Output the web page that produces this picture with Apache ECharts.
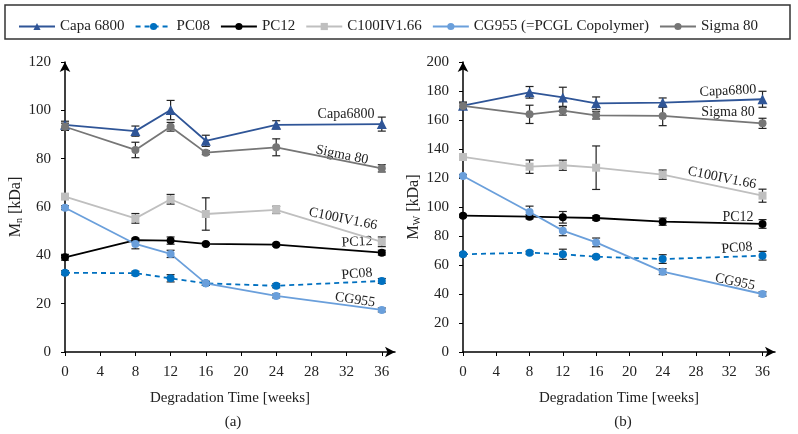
<!DOCTYPE html>
<html>
<head>
    <meta charset="UTF-8">
    <title></title>
    <style type="text/css">
        body { margin: 0; background: #fff; }
    </style>
</head>
<body>
<div id='mychart' style="width: 798px;height:434px;"></div>
<script src='https://cdn.jsdelivr.net/npm/echarts@6/dist/echarts.min.js'></script>
<script>
    var weeks = [0, 8, 12, 16, 24, 36];
    var names = ['Capa 6800', 'PC08', 'PC12', 'C100IV1.66', 'CG955 (=PCGL Copolymer)', 'Sigma 80'];

    // Mn [kDa] and error
    var mnCapa = [94, 91.4, 100.1, 87.4, 94, 94.3];
    var mnCapaErr = [1.5, 2.1, 4, 2.3, 1.7, 2.9];
    var mnPC08 = [32.8, 32.6, 30.5, 28.4, 27.4, 29.4];
    var mnPC08Err = [0.8, 0.8, 1.5, 0.8, 0.8, 1];
    var mnPC12 = [39.2, 46.3, 46.1, 44.7, 44.4, 41.1];
    var mnPC12Err = [1.2, 0.8, 1.5, 0.6, 0.6, 1];
    var mnC100 = [64.3, 55.3, 63.2, 57.1, 58.8, 45.6];
    var mnC100Err = [1, 2, 2, 6.7, 1.5, 2];
    var mnCG955 = [59.7, 44.7, 40.6, 28.4, 23.2, 17.4];
    var mnCG955Err = [0.8, 2, 1.5, 0.8, 0.8, 0.8];
    var mnSigma = [93.2, 83.6, 93.2, 82.5, 84.7, 76];
    var mnSigmaErr = [1.5, 3.2, 1.8, 0.8, 3.5, 1.5];

    // Mw [kDa] and error
    var mwCapa = [169.9, 179.1, 175.6, 171.5, 172, 174.3];
    var mwCapaErr = [2.5, 4, 7, 4.4, 3.2, 5.5];
    var mwPC08 = [67.4, 68.5, 67.4, 65.7, 64.1, 66.4];
    var mwPC08Err = [1, 1, 3.5, 1, 3, 3];
    var mwPC12 = [94, 93.3, 92.9, 92.4, 89.9, 88.3];
    var mwPC12Err = [1, 1.5, 4, 1.5, 2.5, 3];
    var mwC100 = [134.5, 127.8, 128.8, 127.1, 122.3, 107.8];
    var mwC100Err = [2, 4.6, 3.5, 15, 3.2, 4.5];
    var mwCG955 = [121.4, 96.6, 83.7, 75.6, 55.4, 40];
    var mwCG955Err = [1, 4, 3.5, 3, 2, 1.5];
    var mwSigma = [169.7, 163.9, 166.4, 163.2, 162.8, 157.7];
    var mwSigmaErr = [2, 6.3, 3, 2.5, 6.7, 3.5];

    var xTicks = [0, 4, 8, 12, 16, 20, 24, 28, 32, 36];

    var colors = ['#2F5597', '#0070C0', '#000000', '#BFBFBF', '#6A9FDB', '#767676'];
    var symbols = ['triangle', 'circle', 'circle', 'rect', 'circle', 'circle'];
    var serif = 'Liberation Serif';

    var mnSets = [[mnCapa, mnCapaErr], [mnPC08, mnPC08Err], [mnPC12, mnPC12Err], [mnC100, mnC100Err], [mnCG955, mnCG955Err], [mnSigma, mnSigmaErr]];
    var mwSets = [[mwCapa, mwCapaErr], [mwPC08, mwPC08Err], [mwPC12, mwPC12Err], [mwC100, mwC100Err], [mwCG955, mwCG955Err], [mwSigma, mwSigmaErr]];

    function pairs(vals) {
        var res = [];
        for (var i = 0; i < weeks.length; i++) res.push([weeks[i], vals[i]]);
        return res;
    }
    function triples(vals, errs) {
        var res = [];
        for (var i = 0; i < weeks.length; i++) res.push([weeks[i], vals[i], errs[i]]);
        return res;
    }

    function errorBar(params, api) {
        var x = api.value(0), v = api.value(1), e = api.value(2);
        var top = api.coord([x, v + e]);
        var bot = api.coord([x, v - e]);
        var w = 4;
        var st = {stroke: '#222', lineWidth: 1.2};
        return {
            type: 'group',
            children: [
                {type: 'line', shape: {x1: top[0], y1: top[1], x2: bot[0], y2: bot[1]}, style: st},
                {type: 'line', shape: {x1: top[0] - w, y1: top[1], x2: top[0] + w, y2: top[1]}, style: st},
                {type: 'line', shape: {x1: bot[0] - w, y1: bot[1], x2: bot[0] + w, y2: bot[1]}, style: st}
            ]
        };
    }

    var series = [];
    [mnSets, mwSets].forEach(function (sets, g) {
        for (var i = 0; i < sets.length; i++) {
            series.push({
                type: 'custom',
                name: 'err' + g + i,
                xAxisIndex: g, yAxisIndex: g,
                renderItem: errorBar,
                data: triples(sets[i][0], sets[i][1]),
                z: 1,
                silent: true
            });
            series.push({
                type: 'line',
                name: names[i],
                xAxisIndex: g, yAxisIndex: g,
                data: pairs(sets[i][0]),
                symbol: symbols[i],
                symbolSize: symbols[i] === 'triangle' ? 10 : 8,
                color: colors[i],
                lineStyle: {width: 1.8, type: i === 1 ? [5, 4] : 'solid'},
                z: 3
            });
        }
    });

    function xAxis(idx) {
        return {
            type: 'value', gridIndex: idx, min: 0, max: 37.5,
            name: 'Degradation Time [weeks]', nameLocation: 'middle', nameGap: 39,
            nameTextStyle: {fontFamily: serif, fontSize: 15, color: '#222'},
            axisLine: {lineStyle: {color: '#000', width: 1.5}, symbol: ['none', 'arrow'], symbolSize: [8, 10]},
            axisTick: {customValues: xTicks, length: 4, lineStyle: {color: '#000'}},
            axisLabel: {customValues: xTicks, fontFamily: serif, fontSize: 15, color: '#222', margin: 13},
            splitLine: {show: false}
        };
    }
    function yAxis(idx, max, sub) {
        return {
            type: 'value', gridIndex: idx, min: 0, max: max, interval: 20,
            name: 'M{s|' + sub + '} [kDa]', nameLocation: 'middle', nameGap: 35, nameRotate: 90,
            nameTextStyle: {fontFamily: serif, fontSize: 16, color: '#222', rich: {s: {fontFamily: serif, fontSize: 10, verticalAlign: 'bottom', padding: [7, 0, 0, 0]}}},
            axisLine: {show: true, lineStyle: {color: '#000', width: 1.5}, symbol: ['none', 'arrow'], symbolSize: [8, 10]},
            axisTick: {show: true, length: 4, lineStyle: {color: '#000'}},
            axisLabel: {fontFamily: serif, fontSize: 15, color: '#222', margin: 14},
            splitLine: {show: false}
        };
    }

    function note(text, x, y, rot, size) {
        return {
            type: 'text', x: x, y: y, rotation: rot || 0,
            style: {text: text, fontFamily: serif, fontSize: size || 14, fill: '#222', align: 'center', verticalAlign: 'middle'}
        };
    }

    var myChart = echarts.init(document.getElementById('mychart'));
    var option = {
        animation: false,
        backgroundColor: '#fff',
        legend: {
            data: names, top: 14, left: 13, itemGap: 10, itemWidth: 36, itemHeight: 9,
            textStyle: {fontFamily: serif, fontSize: 15, color: '#222'}
        },
        grid: [
            {left: 65, top: 62, width: 330, height: 290},
            {left: 463, top: 62, width: 312, height: 290}
        ],
        xAxis: [xAxis(0), xAxis(1)],
        yAxis: [yAxis(0, 120, 'n'), yAxis(1, 200, 'W')],
        series: series,
        graphic: [
            {type: 'rect', shape: {x: 5, y: 5, width: 785, height: 34}, style: {fill: 'none', stroke: '#333', lineWidth: 1.5}},
            note('Capa6800', 346, 114, 0),
            note('Sigma 80', 342, 155, -0.2),
            note('C100IV1.66', 343, 219, -0.2),
            note('PC12', 357, 242, 0.05),
            note('PC08', 357, 274, 0.08),
            note('CG955', 355, 300, -0.15),
            note('Capa6800', 728, 91, 0.05),
            note('Sigma 80', 728, 112, 0),
            note('C100IV1.66', 722, 178, -0.2),
            note('PC12', 738, 217, 0),
            note('PC08', 737, 248, 0.08),
            note('CG955', 735, 282, -0.2),
            note('(a)', 233, 422, 0, 15),
            note('(b)', 623, 422, 0, 15)
        ]
    };
    myChart.setOption(option);
</script>
</body>
</html>
